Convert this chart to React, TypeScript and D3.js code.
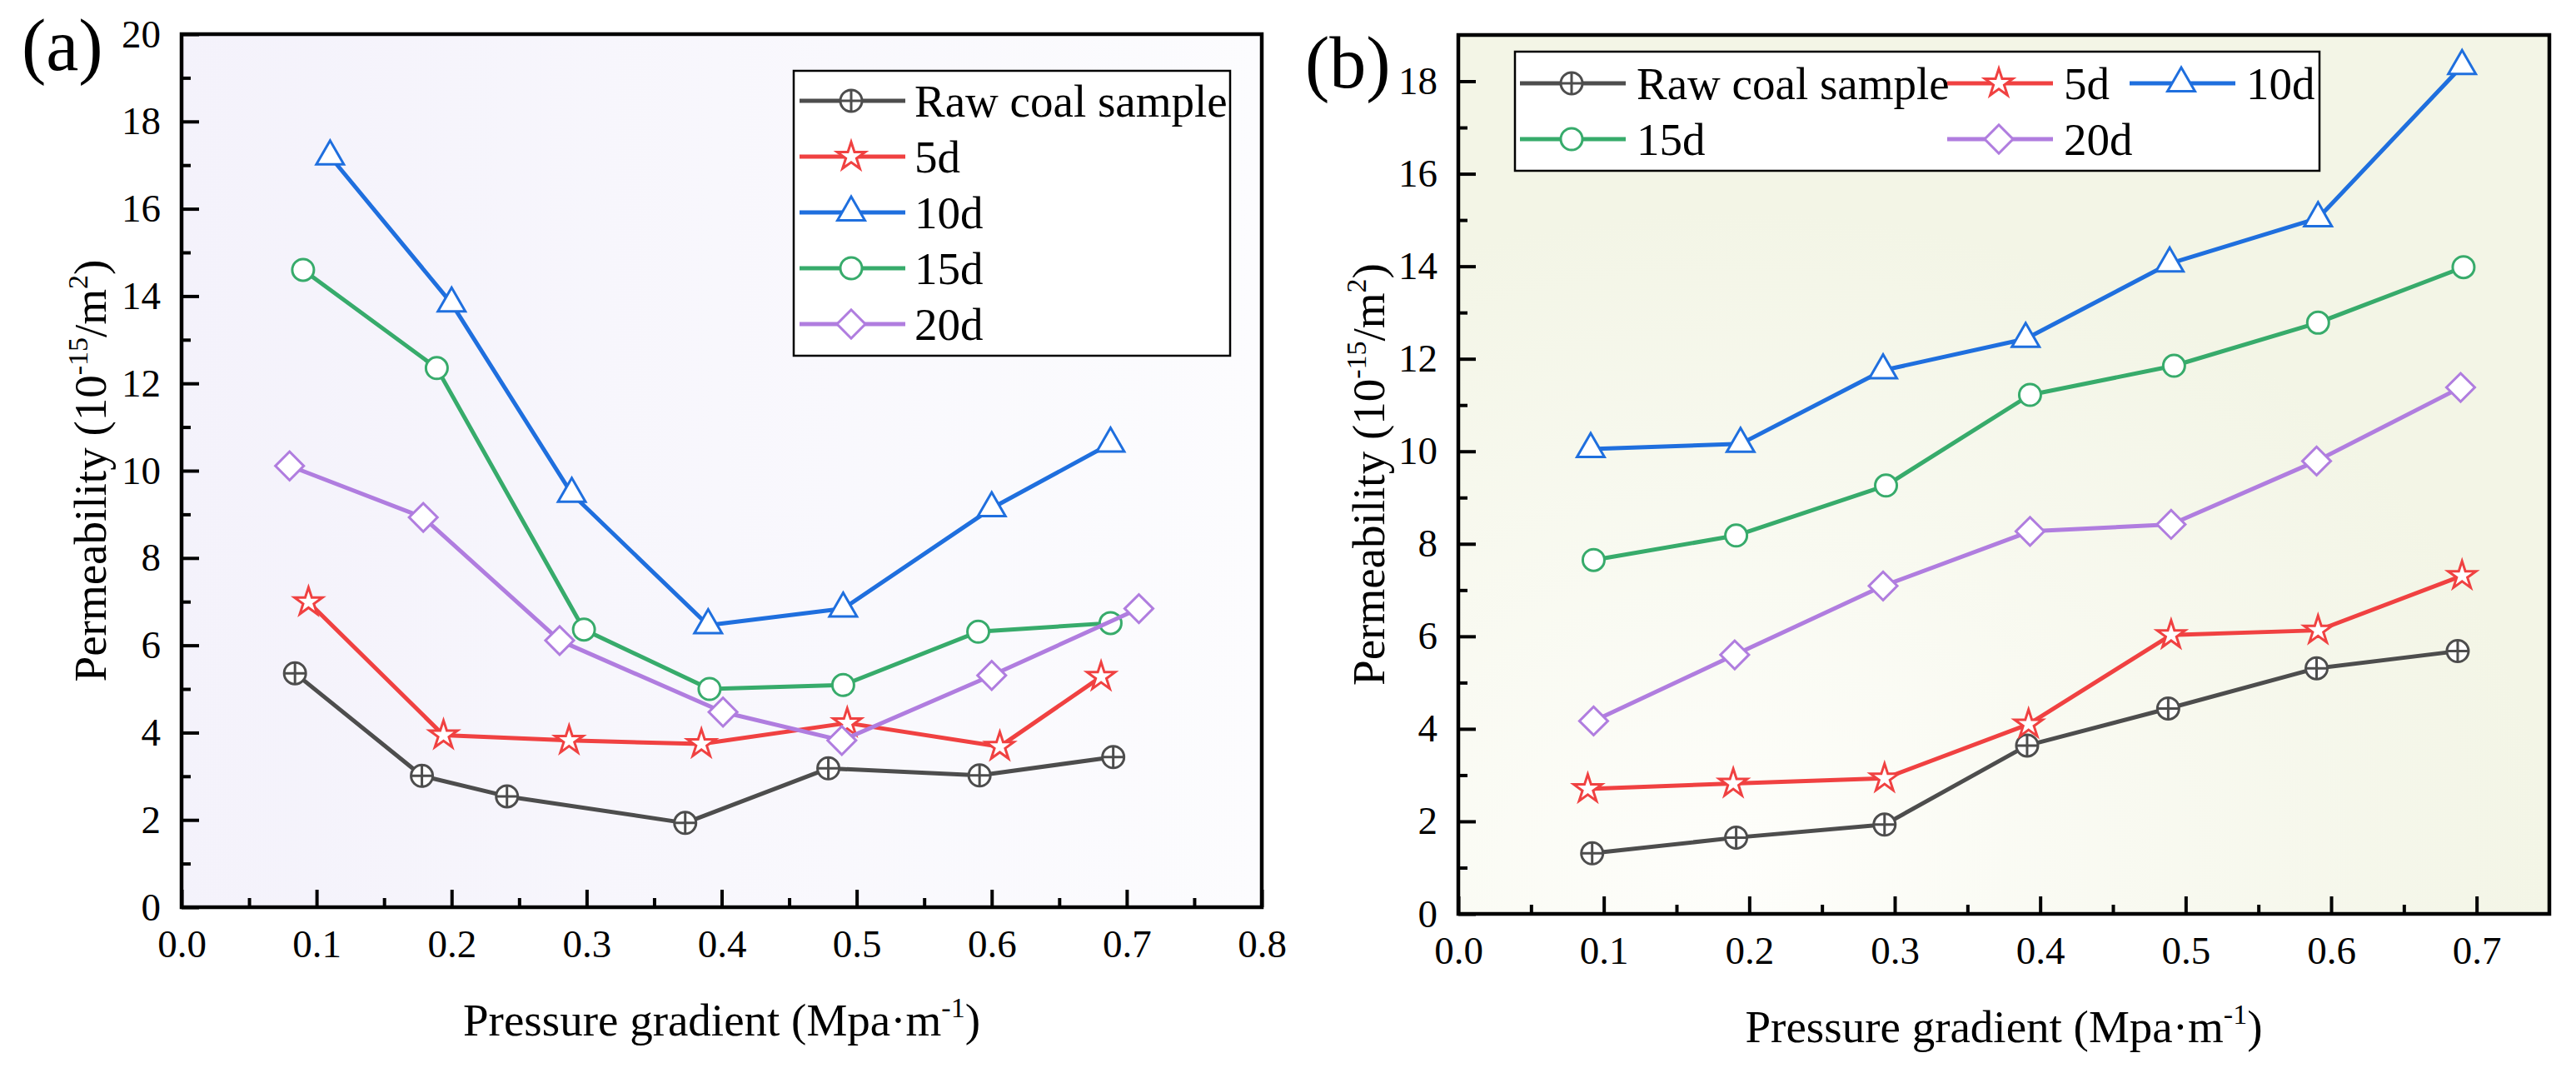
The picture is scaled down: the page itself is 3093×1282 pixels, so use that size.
import { useEffect, useRef } from 'react'
import * as d3 from 'd3'

// ---- panel (a) data ----
const aRawX = [0.084, 0.178, 0.241, 0.373, 0.479, 0.591, 0.69]
const aRawY = [5.36, 3.01, 2.54, 1.93, 3.18, 3.02, 3.44]
const a5dX = [0.094, 0.194, 0.287, 0.385, 0.493, 0.606, 0.681]
const a5dY = [6.99, 3.94, 3.82, 3.74, 4.22, 3.68, 5.28]
const a10dX = [0.11, 0.2, 0.289, 0.39, 0.49, 0.6, 0.688]
const a10dY = [17.2, 13.83, 9.47, 6.46, 6.84, 9.14, 10.62]
const a15dX = [0.09, 0.189, 0.298, 0.391, 0.49, 0.59, 0.688]
const a15dY = [14.6, 12.35, 6.36, 5.0, 5.09, 6.31, 6.51]
const a20dX = [0.08, 0.179, 0.28, 0.401, 0.489, 0.6, 0.709]
const a20dY = [10.11, 8.93, 6.11, 4.47, 3.82, 5.31, 6.84]

// ---- panel (b) data ----
const bRawX = [0.092, 0.191, 0.293, 0.391, 0.488, 0.59, 0.687]
const bRawY = [1.31, 1.65, 1.93, 3.64, 4.44, 5.31, 5.68]
const b5dX = [0.089, 0.189, 0.293, 0.392, 0.49, 0.591, 0.69]
const b5dY = [2.7, 2.82, 2.93, 4.1, 6.03, 6.13, 7.31]
const b10dX = [0.091, 0.194, 0.292, 0.39, 0.489, 0.591, 0.69]
const b10dY = [10.05, 10.16, 11.75, 12.43, 14.06, 15.04, 18.33]
const b15dX = [0.093, 0.191, 0.294, 0.393, 0.492, 0.591, 0.691]
const b15dY = [7.65, 8.18, 9.26, 11.22, 11.85, 12.78, 13.98]
const b20dX = [0.093, 0.19, 0.292, 0.393, 0.49, 0.59, 0.689]
const b20dY = [4.17, 5.6, 7.09, 8.27, 8.42, 9.79, 11.38]

const seriesNames = ['Raw coal sample', '5d', '10d', '15d', '20d']
const seriesColors = ['#4d4d4d', '#f04141', '#1f6fde', '#37ab6b', '#b07ddf']
const seriesShapes = ['crosscircle', 'star', 'triangle', 'circle', 'diamond']

const aXTicks = [0, 0.1, 0.2, 0.3, 0.4, 0.5, 0.6, 0.7, 0.8]
const aXMinor = [0.05, 0.15, 0.25, 0.35, 0.45, 0.55, 0.65, 0.75]
const aYTicks = [0, 2, 4, 6, 8, 10, 12, 14, 16, 18, 20]
const aYMinor = [1, 3, 5, 7, 9, 11, 13, 15, 17, 19]
const bXTicks = [0, 0.1, 0.2, 0.3, 0.4, 0.5, 0.6, 0.7]
const bXMinor = [0.05, 0.15, 0.25, 0.35, 0.45, 0.55, 0.65]
const bYTicks = [0, 2, 4, 6, 8, 10, 12, 14, 16, 18]
const bYMinor = [1, 3, 5, 7, 9, 11, 13, 15, 17]

const FONT = "'Liberation Serif', 'Times New Roman', serif"

type Sel = d3.Selection<any, unknown, null, undefined>

const drawMarker = (g: Sel, shape: string, color: string, x: number, y: number) => {
  const m = g.append('g').attr('transform', `translate(${x},${y})`)
    .attr('fill', 'white').attr('stroke', color).attr('stroke-width', 3)
  if (shape === 'crosscircle') {
    m.append('circle').attr('r', 13)
    m.append('path').attr('d', 'M-13,0H13M0,-13V13')
  } else if (shape === 'circle') {
    m.append('circle').attr('r', 13)
  } else if (shape === 'star') {
    m.append('path').attr('d', d3.symbol(d3.symbolStar, 350)()!)
  } else if (shape === 'triangle') {
    m.append('path').attr('d', d3.symbol(d3.symbolTriangle, 470)()!)
  } else {
    m.append('path').attr('d', d3.symbol(d3.symbolSquare, 580)()!).attr('transform', 'rotate(45)')
  }
}

interface PanelCfg {
  id: string
  left: number; right: number; top: number; bottom: number
  xMax: number; yMax: number
  xTicks: number[]; xMinor: number[]; yTicks: number[]; yMinor: number[]
  xs: number[][]; ys: number[][]
  label: string; labelX: number; labelY: number
  yTitleX: number; xTitleY: number
  legendBox: [number, number, number, number]
  legendItems: [number, number][]
  legendTextDx: number
}

const drawPanel = (svg: Sel, defs: Sel, c: PanelCfg) => {
  const x = d3.scaleLinear().domain([0, c.xMax]).range([c.left, c.right])
  const y = d3.scaleLinear().domain([0, c.yMax]).range([c.bottom, c.top])
  const w = c.right - c.left
  const h = c.bottom - c.top

  // background
  if (c.id === 'a') {
    const lg = defs.append('linearGradient').attr('id', 'bg-a').attr('x1', '0%').attr('x2', '100%')
    lg.append('stop').attr('offset', '0%').attr('stop-color', '#f4f2fb')
    lg.append('stop').attr('offset', '100%').attr('stop-color', '#fcfcfe')
  } else {
    const rg = defs.append('radialGradient').attr('id', 'bg-b')
      .attr('cx', '25%').attr('cy', '95%').attr('r', '75%')
    rg.append('stop').attr('offset', '0%').attr('stop-color', '#fefefb')
    rg.append('stop').attr('offset', '100%').attr('stop-color', '#f3f5e6')
  }
  svg.append('rect').attr('x', c.left).attr('y', c.top).attr('width', w).attr('height', h)
    .attr('fill', `url(#bg-${c.id})`)

  // ticks (inward)
  const gx = svg.append('g').attr('transform', `translate(0,${c.bottom})`)
    .call(d3.axisBottom(x).tickValues(c.xTicks).tickFormat(d3.format('.1f'))
      .tickSizeInner(-21).tickSizeOuter(0).tickPadding(27))
  const gxm = svg.append('g').attr('transform', `translate(0,${c.bottom})`)
    .call(d3.axisBottom(x).tickValues(c.xMinor).tickFormat(() => '')
      .tickSizeInner(-11).tickSizeOuter(0))
  const gy = svg.append('g').attr('transform', `translate(${c.left},0)`)
    .call(d3.axisLeft(y).tickValues(c.yTicks).tickFormat(d3.format('d'))
      .tickSizeInner(-21).tickSizeOuter(0).tickPadding(25))
  const gym = svg.append('g').attr('transform', `translate(${c.left},0)`)
    .call(d3.axisLeft(y).tickValues(c.yMinor).tickFormat(() => '')
      .tickSizeInner(-11).tickSizeOuter(0))
  ;[gx, gxm, gy, gym].forEach((g) => {
    g.select('.domain').remove()
    g.selectAll('line').attr('stroke', '#000').attr('stroke-width', 4)
    g.selectAll('text').attr('font-family', FONT).attr('font-size', 47).attr('fill', '#000')
  })

  // frame
  svg.append('rect').attr('x', c.left).attr('y', c.top).attr('width', w).attr('height', h)
    .attr('fill', 'none').attr('stroke', '#000').attr('stroke-width', 4.5)

  // series
  const line = d3.line<[number, number]>().x((d) => x(d[0])).y((d) => y(d[1]))
  c.xs.forEach((xs, i) => {
    const pts = xs.map((v, j) => [v, c.ys[i][j]] as [number, number])
    svg.append('path').attr('d', line(pts)!).attr('fill', 'none')
      .attr('stroke', seriesColors[i]).attr('stroke-width', 5).attr('stroke-linejoin', 'round')
    pts.forEach((p) => drawMarker(svg, seriesShapes[i], seriesColors[i], x(p[0]), y(p[1])))
  })

  // legend
  const [lx0, ly0, lx1, ly1] = c.legendBox
  svg.append('rect').attr('x', lx0).attr('y', ly0).attr('width', lx1 - lx0).attr('height', ly1 - ly0)
    .attr('fill', 'white').attr('stroke', '#000').attr('stroke-width', 2.5)
  c.legendItems.forEach(([ix, iy], i) => {
    svg.append('line').attr('x1', ix).attr('x2', ix + 127).attr('y1', iy).attr('y2', iy)
      .attr('stroke', seriesColors[i]).attr('stroke-width', 5)
    drawMarker(svg, seriesShapes[i], seriesColors[i], ix + 62, iy)
    svg.append('text').attr('x', ix + c.legendTextDx).attr('y', iy + 19)
      .attr('font-family', FONT).attr('font-size', 55).text(seriesNames[i])
  })

  // panel label
  svg.append('text').attr('x', c.labelX).attr('y', c.labelY)
    .attr('font-family', FONT).attr('font-size', 88).text(c.label)

  // axis titles
  const xt = svg.append('text').attr('x', (c.left + c.right) / 2).attr('y', c.xTitleY)
    .attr('text-anchor', 'middle').attr('font-family', FONT).attr('font-size', 55)
  xt.append('tspan').text('Pressure gradient (Mpa·m')
  xt.append('tspan').attr('font-size', 34).attr('dy', -22).text('-1')
  xt.append('tspan').attr('dy', 22).text(')')

  const yt = svg.append('text')
    .attr('transform', `translate(${c.yTitleX},${(c.top + c.bottom) / 2}) rotate(-90)`)
    .attr('text-anchor', 'middle').attr('font-family', FONT).attr('font-size', 55)
  yt.append('tspan').text('Permeability (10')
  yt.append('tspan').attr('font-size', 34).attr('dy', -22).text('-15')
  yt.append('tspan').attr('dy', 22).text('/m')
  yt.append('tspan').attr('font-size', 34).attr('dy', -22).text('2')
  yt.append('tspan').attr('dy', 22).text(')')
}

export default function App() {
  const svgRef = useRef<SVGSVGElement>(null)

  useEffect(() => {
    if (!svgRef.current) return
    d3.select(svgRef.current).selectAll('*').remove()
    const svg = d3.select(svgRef.current) as unknown as Sel
    const defs = svg.append('defs')

    drawPanel(svg, defs, {
      id: 'a', left: 218, right: 1515, top: 41, bottom: 1089, xMax: 0.8, yMax: 20,
      xTicks: aXTicks, xMinor: aXMinor, yTicks: aYTicks, yMinor: aYMinor,
      xs: [aRawX, a5dX, a10dX, a15dX, a20dX], ys: [aRawY, a5dY, a10dY, a15dY, a20dY],
      label: '(a)', labelX: 26, labelY: 84, yTitleX: 127, xTitleY: 1243,
      legendBox: [953, 85, 1477, 427],
      legendItems: [[960, 121], [960, 188], [960, 255], [960, 322], [960, 389]],
      legendTextDx: 138,
    })
    drawPanel(svg, defs, {
      id: 'b', left: 1751, right: 3061, top: 42, bottom: 1097, xMax: 0.75, yMax: 19,
      xTicks: bXTicks, xMinor: bXMinor, yTicks: bYTicks, yMinor: bYMinor,
      xs: [bRawX, b5dX, b10dX, b15dX, b20dX], ys: [bRawY, b5dY, b10dY, b15dY, b20dY],
      label: '(b)', labelX: 1567, labelY: 105, yTitleX: 1662, xTitleY: 1251,
      legendBox: [1819, 62, 2785, 205],
      legendItems: [[1825, 100], [2338, 100], [2557, 100], [1825, 167], [2338, 167]],
      legendTextDx: 140,
    })
  }, [])

  return (
    <div style={{ position: 'absolute', left: 0, top: 0 }}>
      <svg ref={svgRef} width={3093} height={1282} style={{ display: 'block', background: 'white' }} />
    </div>
  )
}
